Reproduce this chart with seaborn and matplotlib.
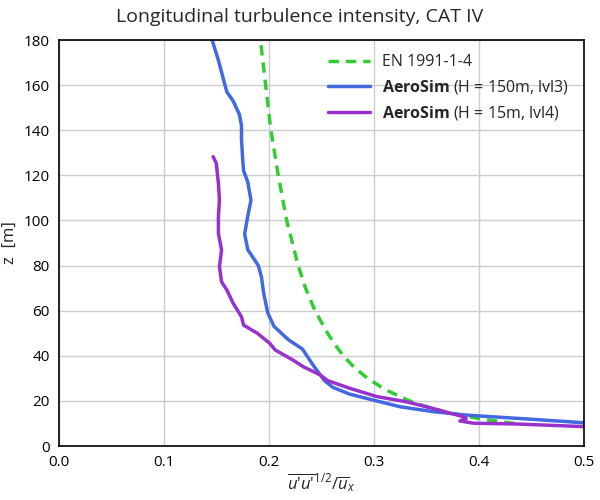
import numpy as np
import pandas as pd
import matplotlib
matplotlib.use('Agg')
import matplotlib.pyplot as plt
import seaborn as sns

# EN 1991-1-4 reference profile (CAT IV)
en_z = [10, 11, 12, 13, 15, 17, 20, 25, 30, 35, 40, 45, 50, 60, 70, 80, 100, 120, 140, 160, 180]
en_iv = [0.434, 0.417, 0.402, 0.390, 0.369, 0.353, 0.334, 0.311, 0.294, 0.281, 0.271,
         0.263, 0.256, 0.244, 0.235, 0.228, 0.217, 0.209, 0.202, 0.197, 0.192]

# AeroSim, H = 150m, lvl3
h150_z = [180, 171, 164, 157, 153, 147, 142, 136, 128, 122, 117, 109, 102, 94, 87, 80, 75,
          68, 59, 53, 47, 43, 36, 29, 26, 23, 20.4, 17.4, 15.2, 13.7, 11.8, 10.3, 9.8]
h150_iv = [0.146, 0.152, 0.156, 0.160, 0.166, 0.172, 0.174, 0.174, 0.175, 0.176, 0.180, 0.183,
           0.180, 0.177, 0.180, 0.190, 0.193, 0.195, 0.199, 0.205, 0.219, 0.232, 0.242, 0.253,
           0.261, 0.277, 0.299, 0.325, 0.357, 0.388, 0.452, 0.500, 0.52]

# AeroSim, H = 15m, lvl4
h15_z = [128.3, 125.3, 116.5, 109, 101.7, 94.3, 86.9, 79.5, 72.8, 69.2, 63.3, 57.3, 53.6, 50,
         45.5, 42.6, 38.1, 35.1, 31.5, 29, 25.6, 21.9, 19.6, 16.7, 13, 12.2, 11.1, 10.1, 9.75, 8.6, 8.4]
h15_iv = [0.147, 0.150, 0.152, 0.153, 0.152, 0.152, 0.155, 0.153, 0.155, 0.160, 0.166, 0.174,
          0.176, 0.189, 0.201, 0.206, 0.223, 0.233, 0.249, 0.256, 0.277, 0.303, 0.331, 0.356,
          0.385, 0.388, 0.382, 0.395, 0.436, 0.500, 0.52]

sns.set_style('whitegrid')
plt.rcParams['font.family'] = ['Open Sans', 'DejaVu Sans']
plt.rcParams['mathtext.fontset'] = 'custom'
plt.rcParams['mathtext.rm'] = 'Open Sans'
plt.rcParams['mathtext.it'] = 'Open Sans:italic'
plt.rcParams['mathtext.bf'] = 'Open Sans:bold'

fig = plt.figure(figsize=(6, 5), dpi=100)
ax = fig.add_axes([0.098, 0.108, 0.875, 0.812])

sns.lineplot(x=en_iv, y=en_z, sort=False, estimator=None, ax=ax, color='#33cc33',
             lw=2.5, linestyle=(0, (3, 2)), label='EN 1991-1-4')
sns.lineplot(x=h150_iv, y=h150_z, sort=False, estimator=None, ax=ax, color='#4169e1',
             lw=2.5, label=r'$\bf{AeroSim}$ (H = 150m, lvl3)')
sns.lineplot(x=h15_iv, y=h15_z, sort=False, estimator=None, ax=ax, color='#9932cc',
             lw=2.5, label=r'$\bf{AeroSim}$ (H = 15m, lvl4)')

ax.set_xlim(0, 0.5)
ax.set_ylim(0, 180)
ax.set_xticks([0.0, 0.1, 0.2, 0.3, 0.4, 0.5])
ax.set_yticks(range(0, 181, 20))
ax.tick_params(labelsize=11, colors='black', pad=3)
for s in ax.spines.values():
    s.set_color('black')
    s.set_linewidth(1.2)
ax.grid(color='#cccccc', lw=1)

ax.set_xlabel(r"$\overline{u\text{'}u\text{'}}^{1/2}/\overline{u}_x$", fontsize=12, labelpad=1)
ax.set_ylabel('z  [m]', fontsize=12)
fig.suptitle('Longitudinal turbulence intensity, CAT IV', fontsize=14, y=0.985)

ax.legend(loc='upper right', frameon=False, fontsize=11.5, handlelength=2.6,
          bbox_to_anchor=(1.0, 1.0))

fig.savefig('out.png', dpi=100)
